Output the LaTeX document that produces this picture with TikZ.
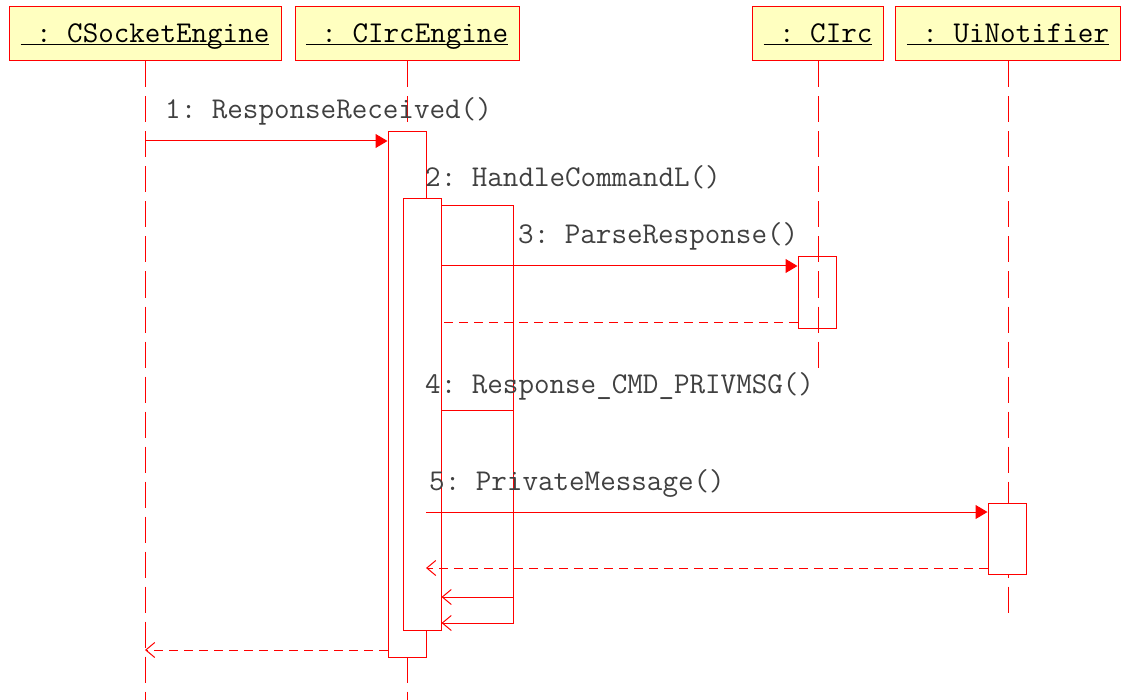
\documentclass[tikz,border=0pt]{standalone}
\usepackage{fontspec}
\usetikzlibrary{arrows.meta}
\definecolor{objfill}{HTML}{FFFFC0}
\definecolor{msggray}{HTML}{404040}
\newcommand{\objname}[1]{\underline{\raisebox{0pt}[\height][0pt]{#1}}}
\newcommand{\seqfont}{\ttfamily\frenchspacing\fontsize{30.2}{34}\selectfont}

\begin{document}
\begin{tikzpicture}[x=1pt, y=-1pt,
  objbox/.style={draw=red, fill=objfill, line width=1pt, inner sep=0pt,
    minimum height=54, font=\seqfont},
  actbox/.style={draw=red, fill=white, line width=1pt, inner sep=0pt, minimum width=38},
  lifeline/.style={red, line width=1pt, dash pattern=on 26pt off 9pt},
  call/.style={red, line width=1pt, -{Triangle[length=12pt,width=14pt]}},
  selfcall/.style={red, line width=1pt, -{Straight Barb[length=9pt,width=15pt]}},
  reply/.style={red, line width=1pt, dash pattern=on 9pt off 6pt},
  msg/.style={anchor=base west, inner sep=0pt, text=msggray, font=\seqfont}]
\useasboundingbox (0,0) rectangle (1123,700);

% Objects along the top
\node[objbox, minimum width=272] (sock) at (145,34) {\objname{\ : CSocketEngine}};
\node[objbox, minimum width=224] (eng) at (407,34) {\objname{\ : CIrcEngine}};
\node[objbox, minimum width=131] (irc) at (818,34) {\objname{\ : CIrc}};
\node[objbox, minimum width=225] (ui) at (1008,34) {\objname{\ : UiNotifier}};

% Lifelines
\coordinate (sockend) at (145,700);
\coordinate (engend) at (407,700);
\coordinate (ircend) at (818,373);
\coordinate (uiend) at (1008,620);
\draw[lifeline] (sock.south) -- (sockend);
\draw[lifeline] (eng.south) -- (engend);
\draw[lifeline] (irc.south) -- (ircend);
\draw[lifeline] (ui.south) -- (uiend);

% Activations
\node[actbox, minimum height=525] (eng1) at (407,394.5) {};
\node[actbox, minimum height=431] (eng2) at (422,414.5) {};
\node[actbox, fill=none, minimum height=71] (irc1) at (817,292.5) {};
\node[actbox, minimum height=71] (ui1) at (1007,538.5) {};

% 1: from the socket engine
\coordinate (m1) at (145,141);
\draw[call] (m1) -- (m1 -| eng1.west);
\node[msg] (l1) at (165,119) {1: ResponseReceived()};

% 2: self call
\coordinate (s2a) at (513,206);
\coordinate (s2b) at (513,623);
\draw[selfcall] (s2a -| eng2.east) -- (s2a) -- (s2b) -- (s2b -| eng2.east);
\node[msg] (l2) at (425,187) {2: HandleCommandL()};

% 3: parse and return
\coordinate (m3) at (441,266);
\coordinate (r3) at (441,322);
\draw[call] (m3) -- (m3 -| irc1.west);
\draw[reply] (r3 -| irc1.west) -- (r3);
\node[msg] (l3) at (518,244) {3: ParseResponse()};

% 4: self call
\coordinate (s4a) at (513,410);
\coordinate (s4b) at (513,597);
\draw[selfcall] (s4a -| eng2.east) -- (s4a) -- (s4b) -- (s4b -| eng2.east);
\node[msg] (l4) at (425,393) {4: Response\_CMD\_PRIVMSG()};

% 5: notify the ui
\coordinate (m5) at (426,512);
\coordinate (r5) at (426,568);
\draw[call] (m5) -- (m5 -| ui1.west);
\draw[reply, -{Straight Barb[length=9pt,width=15pt]}] (r5 -| ui1.west) -- (r5);
\node[msg] (l5) at (429,490) {5: PrivateMessage()};

% back to the socket engine
\coordinate (r1) at (145,650);
\draw[reply, -{Straight Barb[length=9pt,width=15pt]}] (r1 -| eng1.west) -- (r1);
\end{tikzpicture}
\end{document}
